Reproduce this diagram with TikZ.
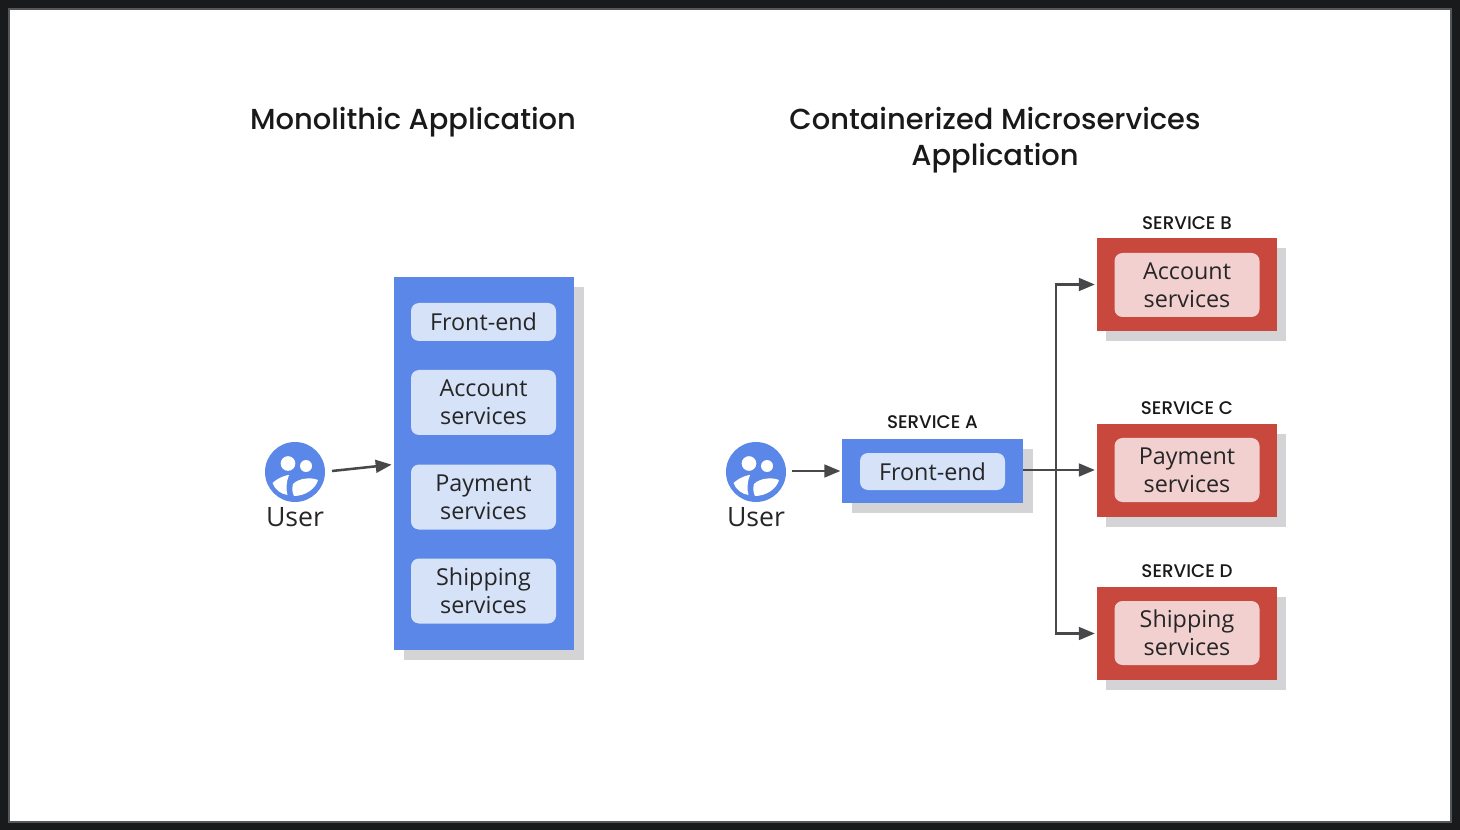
\documentclass[tikz,border=0pt]{standalone}
\usepackage{fontspec}
\setmainfont{Open Sans}
\newfontfamily\titlefont{Poppins Medium}
\usetikzlibrary{positioning, shadows, arrows.meta}
\definecolor{bluebox}{RGB}{90,135,232}
\definecolor{blueitem}{RGB}{214,226,248}
\definecolor{redbox}{RGB}{200,72,62}
\definecolor{reditem}{RGB}{243,208,208}
\definecolor{shadowgray}{RGB}{212,212,215}
\definecolor{arrowgray}{RGB}{72,72,74}
\definecolor{framedark}{RGB}{24,26,28}
\definecolor{framegray}{RGB}{85,87,90}

\begin{document}
\begin{tikzpicture}[
x=0.75pt, y=-0.75pt,
boxshadow/.style={drop shadow={shadow xshift=7.4pt, shadow yshift=-7.4pt, fill=shadowgray, opacity=1}},
bluebody/.style={rectangle, fill=bluebox, boxshadow, inner sep=0pt},
redbody/.style={rectangle, fill=redbox, boxshadow, inner sep=0pt, minimum width=135pt, minimum height=69.75pt},
item/.style={rectangle, rounded corners=6pt, inner sep=0pt, minimum width=108.75pt, align=center, font=\fontsize{17.5}{21}\selectfont, text=black!85},
blueitemnode/.style={item, fill=blueitem},
reditemnode/.style={item, fill=reditem, minimum height=48pt},
title/.style={align=center, font=\titlefont\fontsize{21.7}{27}\selectfont, text=black!90},
servicelabel/.style={font=\titlefont\fontsize{13.7}{15}\selectfont, text=black!90},
userlabel/.style={font=\fontsize{20}{24}\selectfont, text=black!85},
usercircle/.style={circle, fill=bluebox, minimum size=45pt, inner sep=0pt},
link/.style={draw=arrowgray, line width=1.9pt, shorten >=1pt, -{Triangle[length=12pt, width=9.5pt]}},
]

% frame
\fill[framedark] (0,0) rectangle (1460,830);
\fill[framegray] (8,8) rectangle (1452,823);
\fill[white] (10,10) rectangle (1450,821);
\useasboundingbox (0,0) rectangle (1460,830);

% titles
\node[title] (title_mono) at (413,122.5) {Monolithic Application};
\node[title] (title_micro) at (995,140.5) {Containerized Microservices\\Application};

% monolith
\node[bluebody, minimum width=135pt, minimum height=279.75pt] (mono_box) at (484,463.5) {};
\node[blueitemnode, minimum height=28.5pt] (mono_front) at (483.5,322) {Front-end};
\node[blueitemnode, minimum height=48.75pt] (mono_account) at (483.5,402.5) {Account\\services};
\node[blueitemnode, minimum height=48.75pt] (mono_payment) at (483.5,497) {Payment\\services};
\node[blueitemnode, minimum height=48.75pt] (mono_shipping) at (483.5,591) {Shipping\\services};

\node[usercircle] (user_mono) at (295,472) {};
\node[userlabel] (user_mono_text) at (295,517) {User};

% microservices
\node[usercircle] (user_micro) at (756,472) {};
\node[userlabel] (user_micro_text) at (756,517) {User};

\node[bluebody, minimum width=135.75pt, minimum height=48pt] (service_a) at (932.5,471) {};
\node[blueitemnode, minimum height=27.75pt] (front_a) at (932.5,471.5) {Front-end};
\node[servicelabel] (label_a) at (932.5,422) {SERVICE A};

\node[redbody] (service_b) at (1186.5,284.5) {};
\node[reditemnode] (account_b) at (1187,285) {Account\\services};
\node[servicelabel] (label_b) at (1187,223) {SERVICE B};

\node[redbody] (service_c) at (1186.5,470.5) {};
\node[reditemnode] (payment_c) at (1187,470) {Payment\\services};
\node[servicelabel] (label_c) at (1187,408) {SERVICE C};

\node[redbody] (service_d) at (1186.5,633.5) {};
\node[reditemnode] (shipping_d) at (1187,633) {Shipping\\services};
\node[servicelabel] (label_d) at (1187,571) {SERVICE D};

% user faces
\foreach \ux in {295,756}{
  \fill[white] (\ux-7,463.5) circle (5.5pt);
  \fill[white] (\ux+11,466) circle (4.5pt);
  \fill[white] (\ux-22.5,483) .. controls (\ux-16,477) and (\ux-8,475) .. (\ux-6,475) .. controls (\ux-9,482) and (\ux-9,490) .. (\ux-7.5,495) .. controls (\ux-14,494) and (\ux-20,490) .. (\ux-22.5,483) -- cycle;
  \fill[white] (\ux-2,484) .. controls (\ux+4,478) and (\ux+16,477) .. (\ux+23,480) .. controls (\ux+21,488) and (\ux+11,496) .. (\ux-1,496) .. controls (\ux-3,492) and (\ux-3,488) .. (\ux-2,484) -- cycle;
}

% connectors
\coordinate (user_mono_out) at (332,471);
\coordinate (mono_in) at (393,464.5);
\draw[link] (user_mono_out) -- (mono_in);

\coordinate (user_micro_out) at (792,471);
\draw[link] (user_micro_out) -- (service_a.west);

\coordinate (branch) at (1056,470);
\draw[link] (service_a.east |- branch) -- (service_c.west |- branch);
\draw[link] (branch) |- (service_b.west);
\draw[link] (branch) |- (service_d.west);

\end{tikzpicture}
\end{document}
